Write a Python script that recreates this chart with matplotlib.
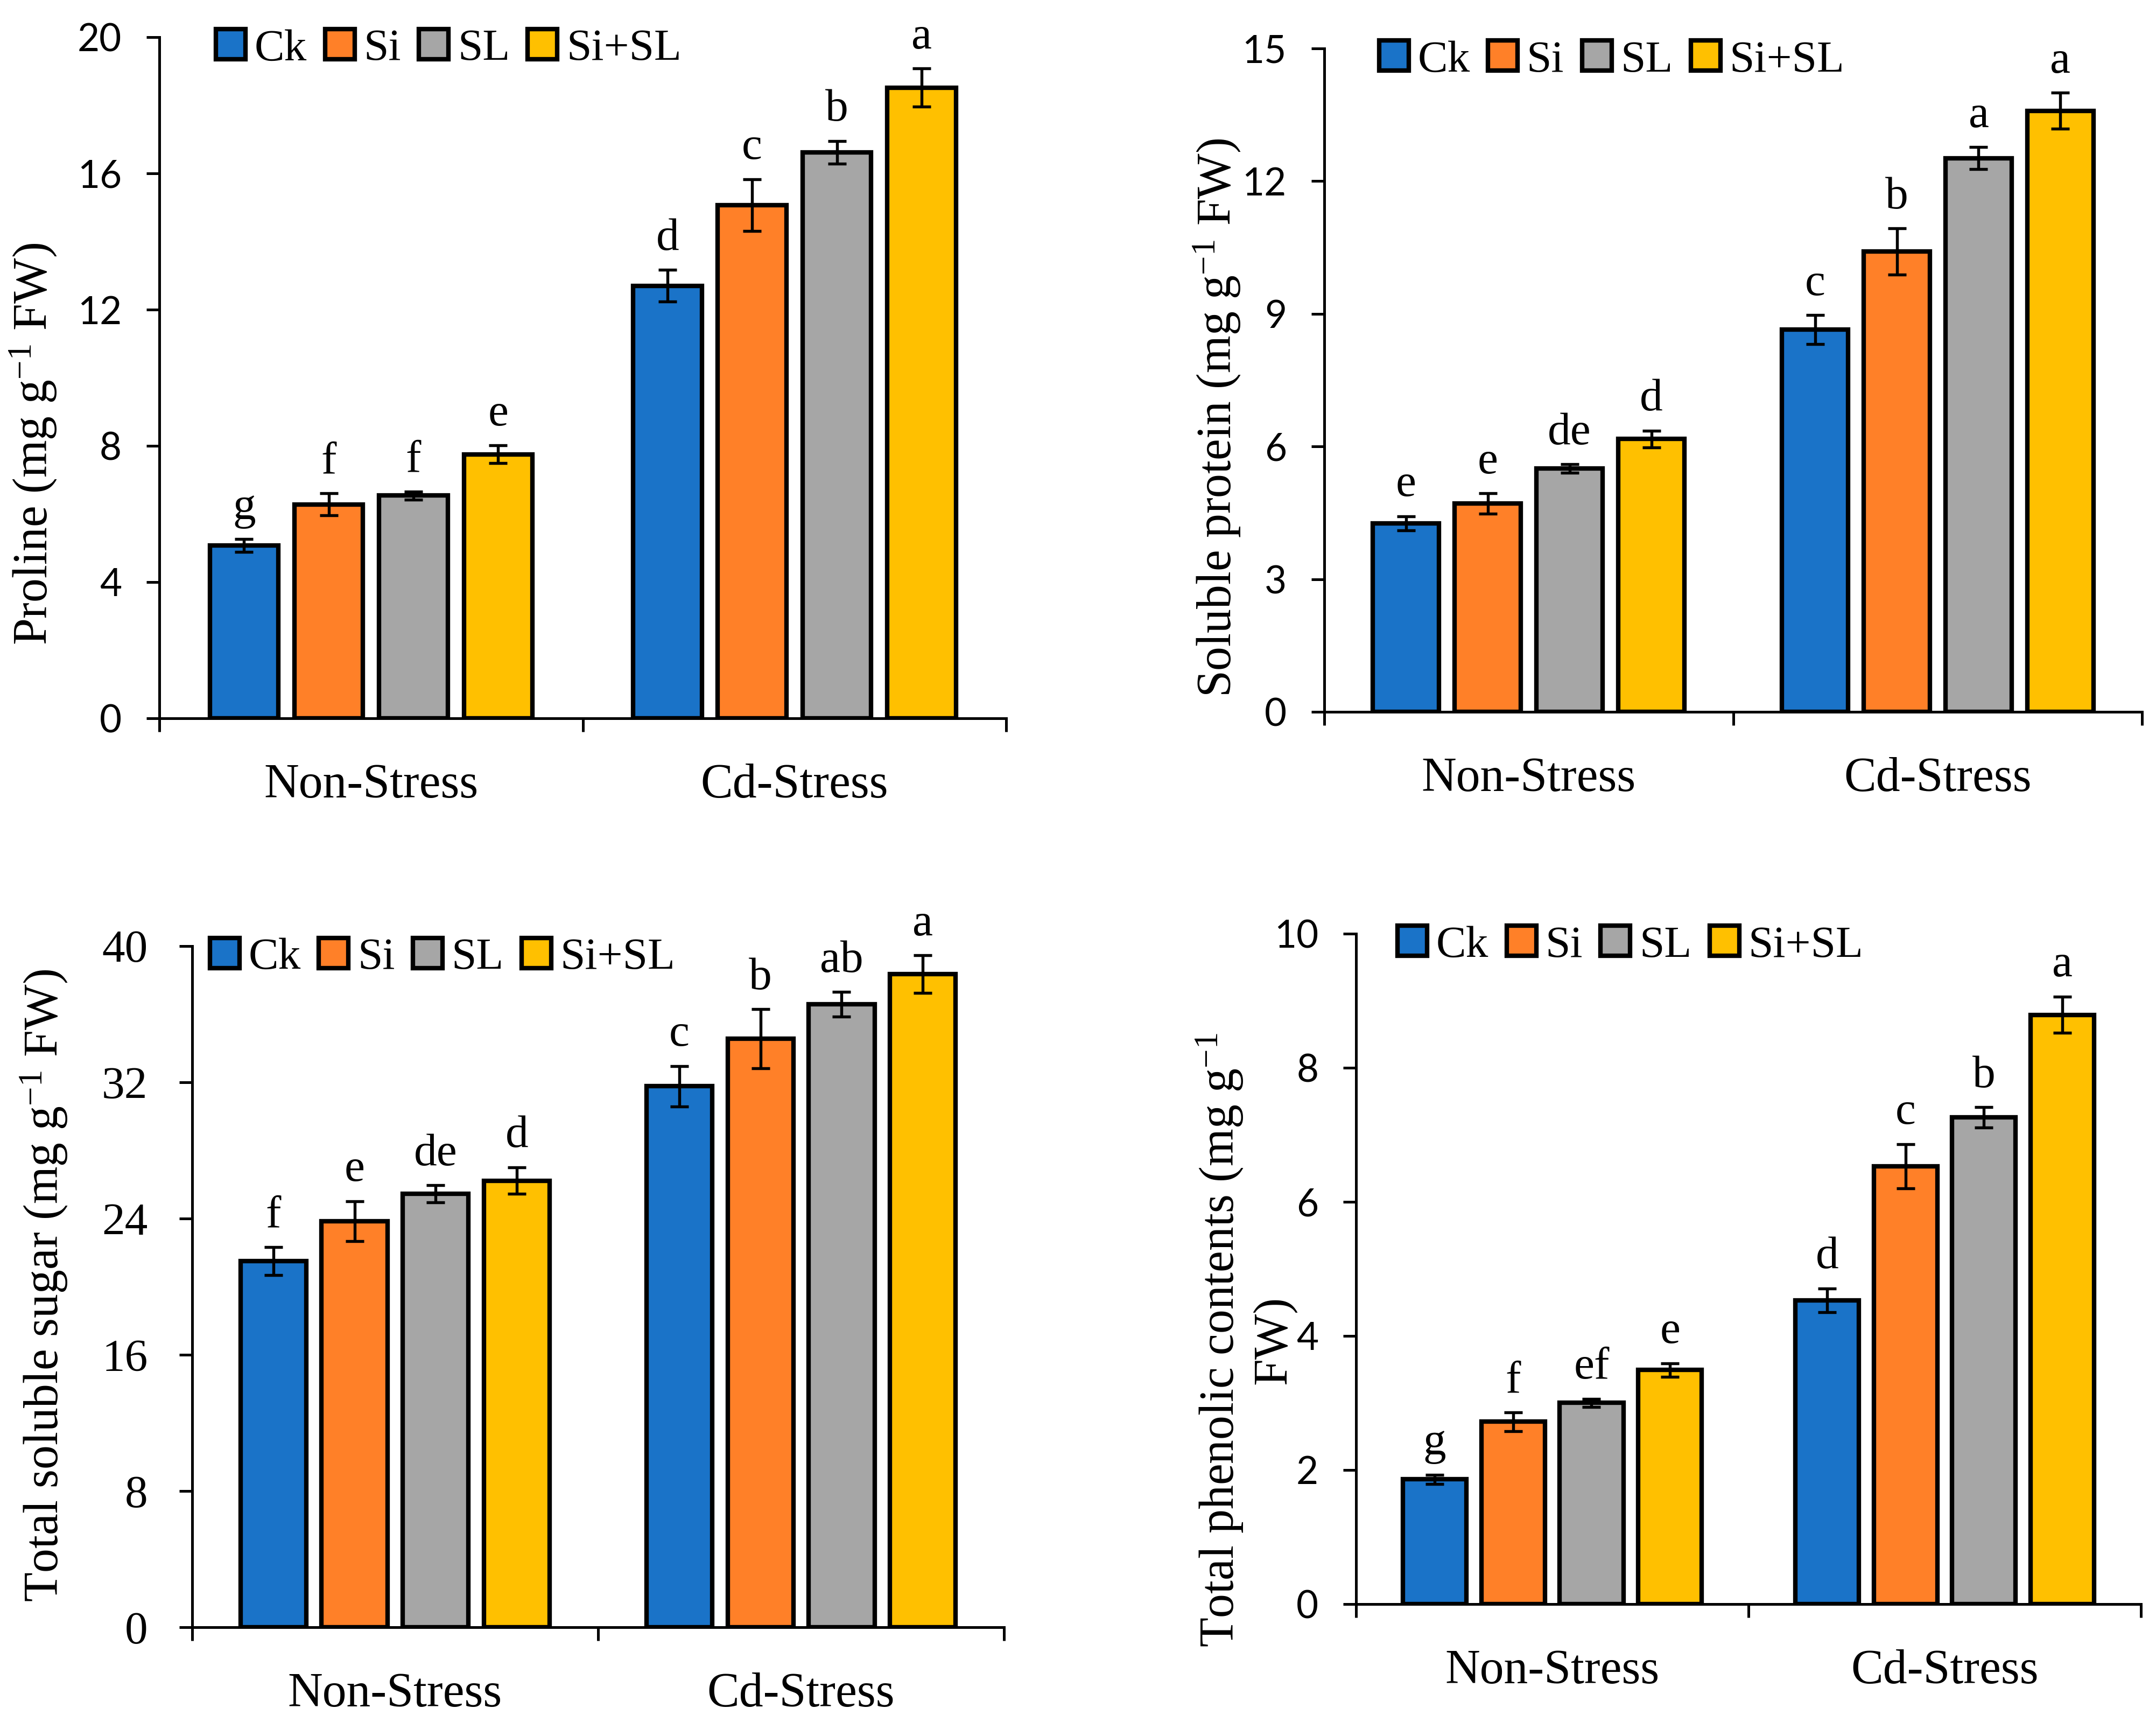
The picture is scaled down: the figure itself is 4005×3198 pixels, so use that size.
import matplotlib
matplotlib.use("Agg")
import matplotlib.pyplot as plt
import numpy as np

plt.rcParams['font.family'] = ['Liberation Serif', 'DejaVu Serif']
plt.rcParams['mathtext.fontset'] = 'custom'
plt.rcParams['mathtext.rm'] = 'Liberation Serif'
plt.rcParams['mathtext.it'] = 'Liberation Serif:italic'

groups = ['Non-Stress', 'Cd-Stress']
treatments = ['Ck', 'Si', 'SL', 'Si+SL']
colors = ['#1A73C8', '#FF8028', '#A6A6A6', '#FFC000']

# values are [group][treatment]
proline_mean = [[5.07, 6.28, 6.54, 7.75], [12.70, 15.07, 16.62, 18.52]]
proline_err = [[0.19, 0.32, 0.12, 0.26], [0.47, 0.76, 0.33, 0.56]]
proline_letters = [['g', 'f', 'f', 'e'], ['d', 'c', 'b', 'a']]

protein_mean = [[4.26, 4.71, 5.50, 6.17], [8.64, 10.41, 12.52, 13.59]]
protein_err = [[0.16, 0.23, 0.10, 0.19], [0.33, 0.52, 0.25, 0.41]]
protein_letters = [['e', 'e', 'de', 'd'], ['c', 'b', 'a', 'a']]

sugar_mean = [[21.50, 23.84, 25.45, 26.23], [31.77, 34.55, 36.58, 38.35]]
sugar_err = [[0.82, 1.18, 0.50, 0.79], [1.18, 1.74, 0.73, 1.10]]
sugar_letters = [['f', 'e', 'de', 'd'], ['c', 'b', 'ab', 'a']]

phenolic_mean = [[1.86, 2.72, 3.00, 3.49], [4.53, 6.53, 7.26, 8.79]]
phenolic_err = [[0.07, 0.14, 0.06, 0.10], [0.18, 0.33, 0.15, 0.27]]
phenolic_letters = [['g', 'f', 'ef', 'e'], ['d', 'c', 'b', 'a']]

fig = plt.figure(figsize=(4005 / 300, 3198 / 300), dpi=300)


def draw_panel(rect, mean, err, letters, ymax, ystep, ylabel, label_xy,
               leg_anchor, tick_font, tick_size, tick_pad):
    ax = fig.add_axes(rect)
    mean = np.array(mean)
    err = np.array(err)
    offsets = [-0.3, -0.1, 0.1, 0.3]
    x = np.arange(len(groups))
    for i, name in enumerate(treatments):
        ax.bar(x + offsets[i], mean[:, i], width=0.162, color=colors[i],
               edgecolor='black', linewidth=2.0, label=name, zorder=2,
               yerr=err[:, i], capsize=4,
               error_kw=dict(ecolor='black', elinewidth=1.3, capthick=1.3, zorder=3))
        for g in range(len(groups)):
            ax.annotate(letters[g][i], (x[g] + offsets[i], mean[g, i] + err[g, i]),
                        xytext=(0, 9), textcoords='offset points',
                        ha='center', va='baseline', fontsize=20.5)

    ax.set_xlim(-0.5, 1.5)
    ax.set_ylim(0, ymax)
    ax.set_yticks(np.arange(0, ymax + 0.01, ystep))
    ax.set_yticklabels([f'{v:g}' for v in np.arange(0, ymax + 0.01, ystep)],
                       fontfamily=tick_font, fontsize=tick_size)
    ax.set_xticks([-0.5, 0.5, 1.5])
    ax.set_xticklabels([])
    ax.set_xticks([0, 1], minor=True)
    ax.set_xticklabels(groups, minor=True, fontsize=21.5)
    ax.tick_params(axis='x', which='minor', length=0, pad=20)
    ax.tick_params(axis='x', which='major', length=6, width=1.2, direction='out')
    ax.tick_params(axis='y', length=5.8, width=1.2, direction='out', pad=tick_pad)
    for s in ['top', 'right']:
        ax.spines[s].set_visible(False)
    for s in ['left', 'bottom']:
        ax.spines[s].set_linewidth(1.2)

    ax.set_ylabel(ylabel, fontsize=21.5)
    ax.yaxis.set_label_coords(*label_xy)

    ax.legend(loc='upper left', bbox_to_anchor=leg_anchor, ncol=4, frameon=False,
              fontsize=20, handlelength=0.66, handleheight=0.66,
              handletextpad=0.2, columnspacing=0.4, borderpad=0,
              borderaxespad=0)
    return ax


draw_panel([0.0739, 0.5829, 0.3928, 0.3955], proline_mean, proline_err,
           proline_letters, 20, 4, r'Proline (mg g$^{-1}$ FW)', (-0.119, 0.403),
           (0.067, 1.012), 'Lato', 17, 11)

draw_panel([0.6142, 0.5866, 0.3794, 0.3853], protein_mean, protein_err,
           protein_letters, 15, 3, r'Soluble protein (mg g$^{-1}$ FW)', (-0.100, 0.443),
           (0.067, 1.012), 'Lato', 17, 11)

draw_panel([0.0891, 0.0550, 0.3766, 0.3956], sugar_mean, sugar_err,
           sugar_letters, 40, 8, r'Total soluble sugar (mg g$^{-1}$ FW)', (-0.151, 0.502),
           (0.022, 1.012), 'Liberation Serif', 20.5, 14)

draw_panel([0.6290, 0.0685, 0.3640, 0.3893], phenolic_mean, phenolic_err,
           phenolic_letters, 10, 2, 'Total phenolic contents (mg g$^{-1}$\nFW)',
           (-0.076, 0.394), (0.053, 1.012), 'Lato', 17, 11)

fig.savefig('out.png', dpi=300)
